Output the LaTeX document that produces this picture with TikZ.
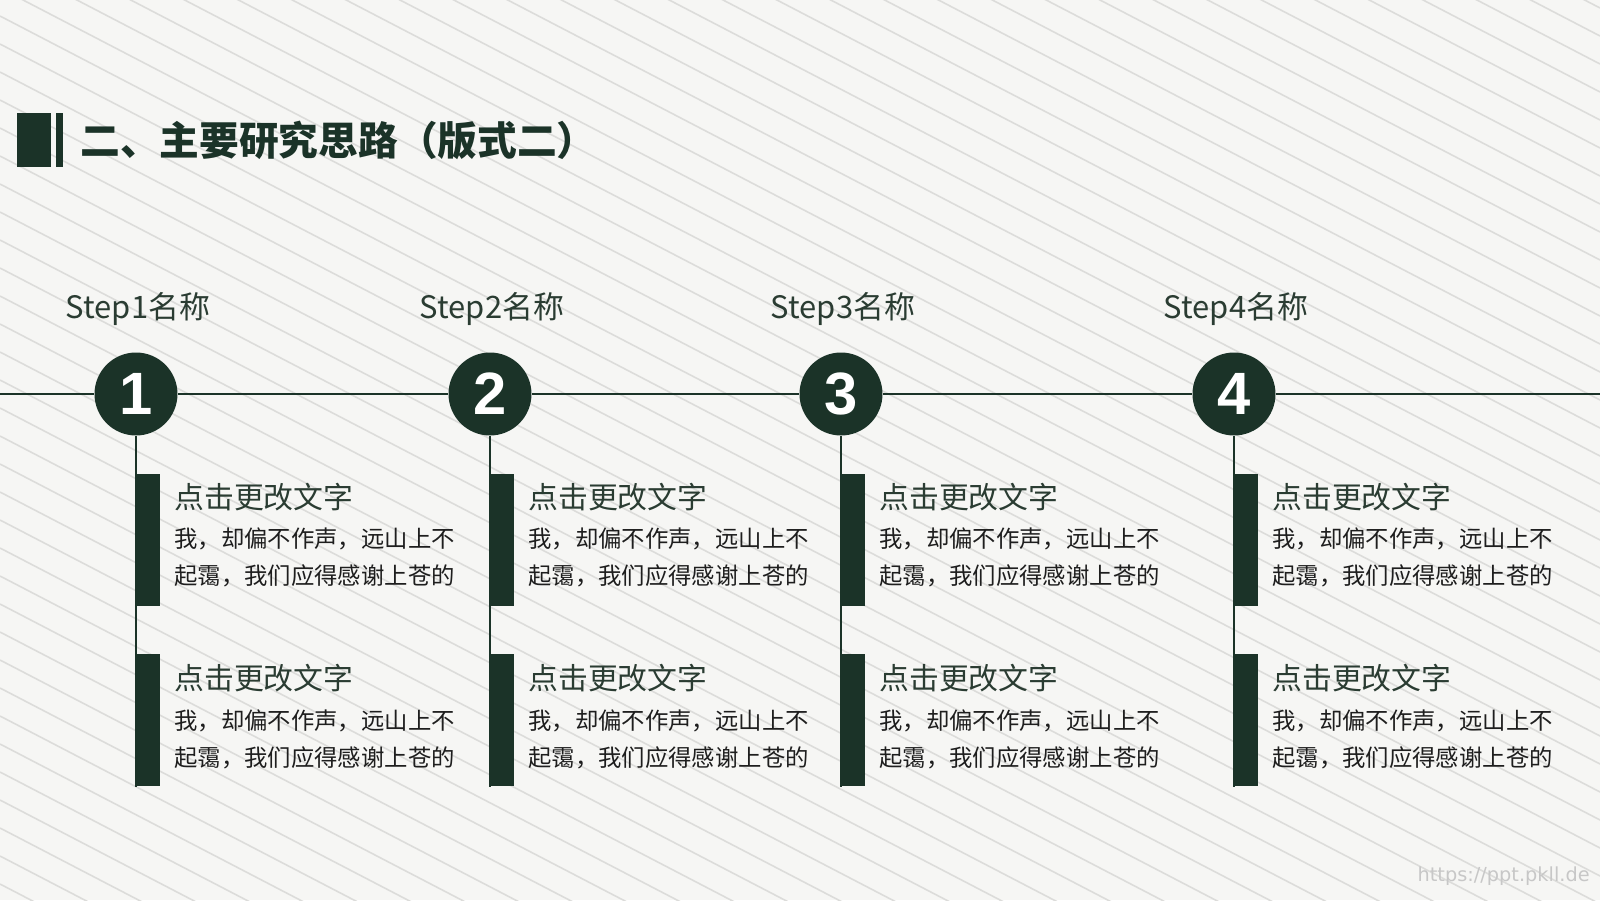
\documentclass[tikz,border=0pt]{standalone}
\usepackage{fontspec}
\setmainfont{Noto Sans CJK SC}
\newfontfamily\numfont{Liberation Sans}
\newfontfamily\urlfont{DejaVu Sans}
\usetikzlibrary{positioning}
\definecolor{pine}{HTML}{1B3328}
\definecolor{paper}{HTML}{F6F6F4}
\definecolor{stripe}{HTML}{DCDCDA}
\definecolor{inkgreen}{HTML}{2A3C32}
\definecolor{ink}{HTML}{1E1E1E}
\tikzset{
	numdot/.style={circle, fill=pine, minimum size=1.66cm, inner sep=0pt,
		text=white, font=\numfont\bfseries\fontsize{34}{34}\selectfont},
	stepname/.style={anchor=base, inner sep=0pt, text=inkgreen,
		font=\fontsize{17.6}{18}\selectfont},
	tab/.style={fill=pine, anchor=north west, minimum width=0.48cm,
		minimum height=2.64cm, inner sep=0pt},
	headline/.style={anchor=base west, inner sep=0pt, text=inkgreen,
		font=\fontsize{17}{17}\selectfont},
	bodytext/.style={anchor=base west, inner sep=0pt, align=left, text=ink,
		font=\fontsize{13.3}{21}\selectfont},
	rail/.style={draw=pine, line width=0.7pt},
}

\begin{document}
\begin{tikzpicture}[x=0.02cm, y=-0.02cm]
		\useasboundingbox (0,0) rectangle (1600,900);
		\fill[paper] (0,0) rectangle (1600,900);
		% diagonal stripes
		\begin{scope}
			\clip (0,0) rectangle (1600,900);
			\foreach \c in {-880,-852,...,900}
				\draw[stripe, line width=0.9pt] (0,\c) -- (1600,\c+832);
		\end{scope}
		% title
		\fill[pine] (17,113) rectangle (51,167);
		\fill[pine] (56,113) rectangle (63,167);
		\node[anchor=base west, inner sep=0pt, text=pine,
			font=\bfseries\fontsize{22.6}{23}\selectfont] (title) at (80,155) {二、主要研究思路（版式二）};
		% steps
		\foreach \cx/\n in {136/1, 490/2, 841/3, 1234/4} {
			\node[stepname] (lab\n) at (\cx+2,318) {Step\n 名称};
			\node[tab] (tabA\n) at (\cx,474) {};
			\node[tab] (tabB\n) at (\cx,654) {};
			\node[headline] (headA\n) at (\cx+38,508) {点击更改文字};
			\node[bodytext] (bodyA\n) at (\cx+38,584) {我，却偏不作声，远山上不\\起霭，我们应得感谢上苍的};
			\node[headline] (headB\n) at (\cx+38,689) {点击更改文字};
			\node[bodytext] (bodyB\n) at (\cx+38,766) {我，却偏不作声，远山上不\\起霭，我们应得感谢上苍的};
		}
		\coordinate (railL) at (0,394);
		\coordinate (railR) at (1600,394);
		\foreach \cx/\n in {136/1, 490/2, 841/3, 1234/4}
			\node[numdot] (circ\n) at (\cx,394) {\n};
		\draw[rail] (railL) -- (circ1) -- (circ2) -- (circ3) -- (circ4) -- (railR);
		\foreach \n in {1,...,4}
			\draw[rail] (circ\n.south) -- (tabB\n.south west);
		\node[anchor=base east, inner sep=0pt, text=black!22,
			font=\urlfont\fontsize{11}{11}\selectfont] (mark) at (1590,881) {https://ppt.pkll.de};
	\end{tikzpicture}
\end{document}
